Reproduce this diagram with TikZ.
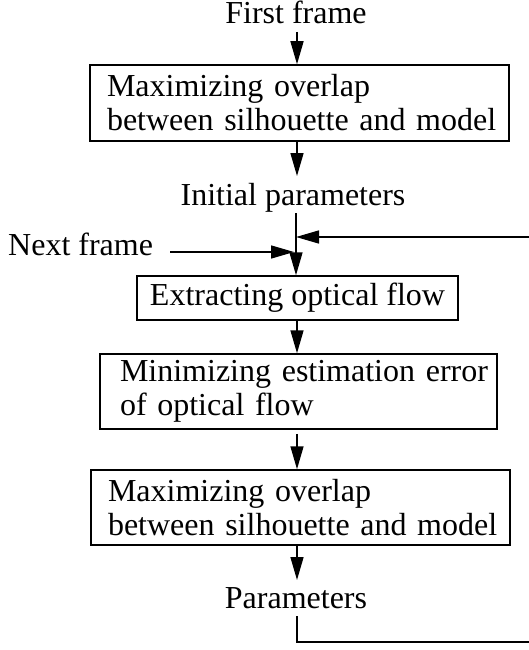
\documentclass[tikz,border=0pt]{standalone}
\usepackage{fontspec}
\setmainfont{Liberation Serif}
\usetikzlibrary{arrows.meta}
\newcommand{\indA}{\hspace*{17pt}}
\newcommand{\indB}{\hspace*{20pt}}
\begin{document}
\begin{tikzpicture}[x=1pt,y=-1pt,
  every node/.style={font=\fontsize{32}{34}\selectfont, inner sep=0pt},
  box/.style={draw, line width=1.5pt, inner sep=0pt},
  lbl/.style={anchor=base},
  conn/.style={line width=1.5pt},
  arr/.style={conn, -{Triangle[length=23pt,width=13pt]}}]
\useasboundingbox (0,0) rectangle (529,650);
% labels
\node[lbl] (ff) at (296,24) {First frame};
\node[lbl] (ip) at (293,205) {Initial parameters};
\node[anchor=base west] (nf) at (8,255) {Next frame};
\node[lbl] (pa) at (296,608) {Parameters};
% boxes
\node[box, minimum height=76pt, text width=419pt, align=left] (b1) at (299.5,103) {\indA Maximizing overlap\\\indA between silhouette and model};
\node[box, minimum width=321pt, minimum height=44pt, align=center] (b2) at (297.5,298) {Extracting optical flow};
\node[box, minimum height=75pt, text width=397pt, align=left] (b3) at (298.5,391.5) {\indB Minimizing estimation error\\\indB of optical flow};
\node[box, minimum height=75pt, text width=419pt, align=left] (b4) at (300.5,507.5) {\indA Maximizing overlap\\\indA between silhouette and model};
% helper coordinates
\coordinate (ffo) at (297,32);
\coordinate (b1o) at (297,141);
\coordinate (ipi) at (297,176);
\coordinate (ipo) at (296,213);
\coordinate (fbT) at (529,237);
\coordinate (fbJ) at (296,237);
\coordinate (nfo) at (170,252);
\coordinate (nfJ) at (294,252);
\coordinate (pai) at (297,580);
\coordinate (pao) at (297,616);
\coordinate (fbB) at (529,642);
% connectors
\draw[arr] (ffo) -- (b1.north -| ffo);
\draw[arr] (b1.south -| b1o) -- (ipi);
\draw[arr] (ipo) -- (b2.north -| ipo);
\draw[arr] (fbT) -- (fbJ);
\draw[arr] (nfo) -- (nfJ);
\draw[arr] (b2.south -| ffo) -- (b3.north -| ffo);
\draw[arr] ([yshift=-4pt]b3.south -| ffo) -- (b4.north -| ffo);
\draw[arr] (b4.south -| ffo) -- (pai);
\draw[conn] (pao) |- (fbB);
\end{tikzpicture}
\end{document}
